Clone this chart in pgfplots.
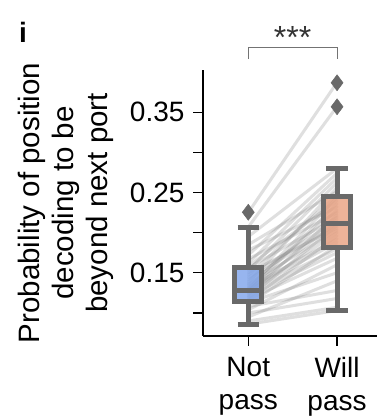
\documentclass[border=0pt]{standalone}
\usepackage{pgfplots}
\pgfplotsset{compat=1.18}
\usepgfplotslibrary{statistics}
\usepackage{fontspec}
\setmainfont{Liberation Sans}
\definecolor{boxgray}{RGB}{105,105,105}
\definecolor{boxblue}{RGB}{128,165,235}
\definecolor{boxorange}{RGB}{233,162,130}
\definecolor{pairgray}{RGB}{120,120,120}
\newcommand\pair[2]{\addplot[pairgray, opacity=0.24, line width=3pt, line cap=round] coordinates {(0,#1) (1,#2)};}
\begin{document}
\begin{tikzpicture}
\useasboundingbox (0pt,0pt) rectangle (386pt,417pt);
\node[anchor=base west, font=\bfseries\fontsize{28}{30}\selectfont, inner sep=0] at (19pt,374pt) {i};
\begin{axis}[
  at={(203pt,81pt)}, anchor=south west,
  width=174pt, height=266pt, scale only axis,
  xmin=-0.51, xmax=1.45, ymin=0.0713, ymax=0.4025,
  axis x line*=bottom, axis y line*=left,
  axis line style={line width=1.2pt, -},
  xtick={0,1}, xticklabels={Not\\pass, Will\\pass},
  xticklabel style={align=center, font=\fontsize{28}{33}\selectfont, yshift=-8pt},
  ytick={0.15,0.25,0.35}, yticklabels={0.15,0.25,0.35},
  minor ytick={0.10,0.20,0.30},
  yticklabel style={font=\fontsize{28}{32}\selectfont, xshift=-5pt},
  tick style={line width=1.2pt, black},
  major tick length=10pt, minor tick length=10pt,
  tick align=outside,
  ylabel={Probability of position\\decoding to be\\beyond next port},
  ylabel style={align=center, font=\fontsize{29.5}{34}\selectfont, at={(axis description cs:-0.787,0.5)}, anchor=center},
  clip=false,
  boxplot/draw direction=y,
]
\pair{0.086}{0.103}
\pair{0.090}{0.107}
\pair{0.095}{0.140}
\pair{0.100}{0.118}
\pair{0.104}{0.160}
\pair{0.108}{0.128}
\pair{0.111}{0.184}
\pair{0.113}{0.150}
\pair{0.115}{0.196}
\pair{0.117}{0.168}
\pair{0.119}{0.209}
\pair{0.121}{0.175}
\pair{0.123}{0.222}
\pair{0.125}{0.180}
\pair{0.126}{0.200}
\pair{0.127}{0.236}
\pair{0.128}{0.188}
\pair{0.129}{0.213}
\pair{0.130}{0.244}
\pair{0.132}{0.192}
\pair{0.134}{0.228}
\pair{0.136}{0.203}
\pair{0.138}{0.256}
\pair{0.141}{0.211}
\pair{0.144}{0.216}
\pair{0.147}{0.247}
\pair{0.150}{0.206}
\pair{0.153}{0.262}
\pair{0.156}{0.219}
\pair{0.158}{0.240}
\pair{0.162}{0.268}
\pair{0.167}{0.225}
\pair{0.172}{0.274}
\pair{0.178}{0.232}
\pair{0.185}{0.251}
\pair{0.195}{0.280}
\pair{0.207}{0.357}
\pair{0.225}{0.387}
\addplot[boxplot prepared={draw position=0, lower whisker=0.086, lower quartile=0.1138, median=0.1285, upper quartile=0.1566, upper whisker=0.2066, box extend=0.3, whisker extend=0.24}, draw=boxgray, fill=boxblue, fill opacity=0.82, line width=5pt] coordinates {};
\addplot[boxplot prepared={draw position=1, lower whisker=0.1033, lower quartile=0.182, median=0.2117, upper quartile=0.2454, upper whisker=0.2804, box extend=0.3, whisker extend=0.24}, draw=boxgray, fill=boxorange, fill opacity=0.82, line width=5pt] coordinates {};
\addplot[only marks, mark=diamond*, mark size=8pt, mark options={fill=boxgray, draw=boxgray, line width=0.5pt}] coordinates {(0,0.2254) (1,0.3567) (1,0.3866)};
\draw[line width=1pt, black!55] (axis cs:0,0.416) -- (axis cs:0,0.43) -- (axis cs:1,0.43) -- (axis cs:1,0.416);
\node[font=\fontsize{32}{32}\selectfont, anchor=center, black!80] at (axis cs:0.5,0.4435) {***};
\end{axis}
\end{tikzpicture}
\end{document}
